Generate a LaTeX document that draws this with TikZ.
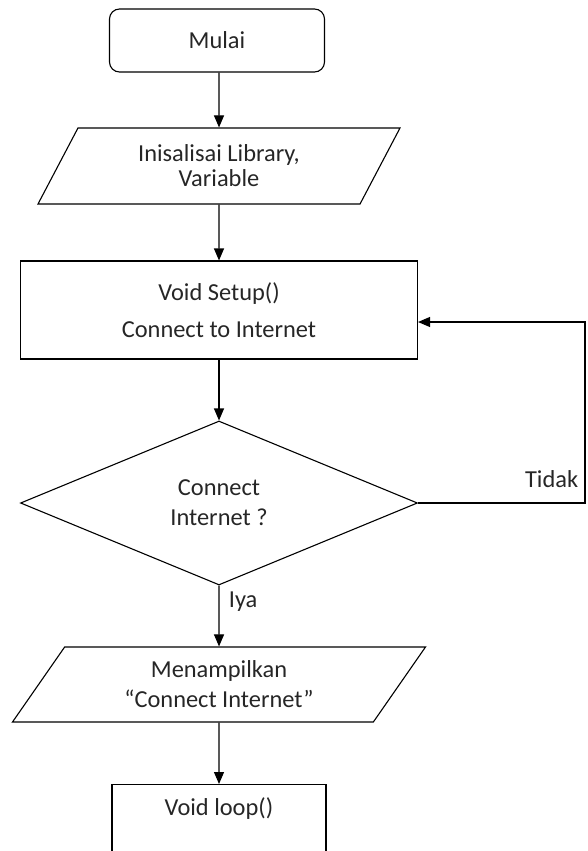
\documentclass[tikz,border=0pt]{standalone}
\usepackage{fontspec}
\setmainfont{Carlito}
\usetikzlibrary{shapes.geometric,arrows.meta}

\begin{document}
\begin{tikzpicture}[x=1pt,y=-1pt,line width=1.1pt,
  every node/.style={font=\fontsize{24.4}{30}\selectfont,align=center,text=black!85},
  arr/.style={-{Triangle[length=12pt,width=10pt]}},
  mulaibox/.style={draw,rounded corners=10pt,minimum width=215pt,minimum height=63pt},
  iobox/.style={draw,trapezium,trapezium stretches body,inner sep=0pt},
  prosesbox/.style={draw,rectangle,inner sep=0pt},
  cekbox/.style={draw,diamond,inner sep=0pt,aspect=2.4}]
\useasboundingbox (0,0) rectangle (587,851);
\clip (0,0) rectangle (587,851);
% mulai
\node[mulaibox] (mulai) at (217,40.5) {Mulai};
% inisialisasi
\node[iobox,trapezium left angle=46.5,trapezium right angle=133.5,
  minimum width=362pt,minimum height=76pt,font=\fontsize{24.4}{25}\selectfont]
  (init) at (219,166) {Inisalisai Library,\\Variable};
% setup
\node[prosesbox,minimum width=397pt,minimum height=98pt]
  (setup) at (219,310) {Void Setup()\\[7pt]Connect to Internet};
% cek koneksi
\node[cekbox,minimum width=397pt,minimum height=164pt]
  (cek) at (219,503) {Connect\\Internet ?};
% tampil
\node[iobox,trapezium left angle=42.1,trapezium right angle=137.9,
  minimum width=413pt,minimum height=75pt]
  (tampil) at (219,684.5) {Menampilkan\\``Connect Internet''};
% loop
\node[prosesbox,anchor=north,minimum width=214pt,inner ysep=8pt,
  text height=23pt,text depth=80pt] (loop) at (219,784) {Void loop()};
% panah
\draw[arr] (mulai.south -| init) -- (init);
\draw[arr] (init) -- (setup);
\draw[arr] (setup) -- (cek);
\draw[arr] (cek) -- (tampil);
\draw[arr] (tampil) -- (loop);
% kembali ke setup
\coordinate (balik) at (585,322);
\draw[arr] (cek.east) -| (balik) -- (balik -| setup.east);
\node[anchor=base east] (tidak) at (582,487) {Tidak};
\node[anchor=base west] (iya) at (225,607) {Iya};
\end{tikzpicture}
\end{document}
